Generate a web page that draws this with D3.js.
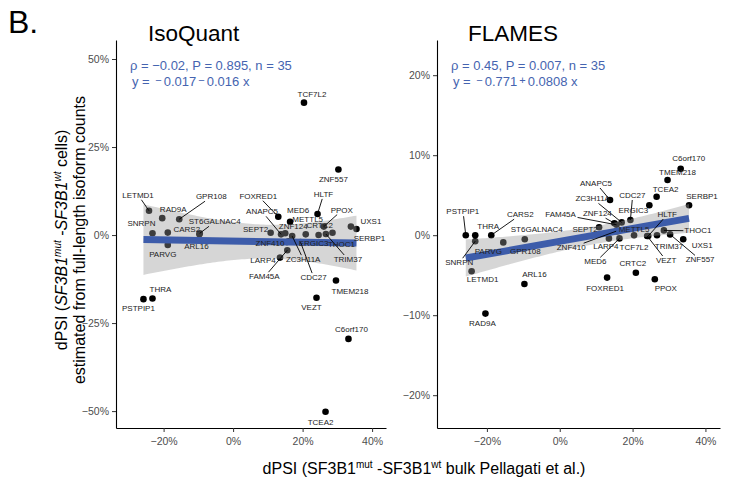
<!DOCTYPE html>
<html>
<head>
<meta charset="utf-8">
<script src="https://cdn.jsdelivr.net/npm/d3@7"></script>
<style>
  body { margin: 0; background: #fff; }
  svg text { font-family: "Liberation Sans", Arial, sans-serif; }
</style>
</head>
<body>
<svg id="chart" width="739" height="486"></svg>
<script>
// genes, in the same order in every array
var genes = ["PSTPIP1","THRA","LETMD1","SNRPN","RAD9A","GPR108","CARS2","PARVG","ST6GALNAC4","ARL16",
             "SEPT2","FOXRED1","LARP4","ANAPC5","FAM45A","ZNF410","ZNF124","ZC3H11A","METTL5","MED6",
             "CDC27","TCF7L2","CRTC2","ERGIC3","HLTF","VEZT","PPOX","TCEA2","TRIM37","THOC1",
             "TMEM218","ZNF557","C6orf170","UXS1","SERBP1"];

// dPSI (%) bulk Pellagati et al. (x, shared by both panels)
var bulkDpsi = [-25.8,-23.2,-24.2,-23.2,-20.4,-15.5,-18.8,-18.8,-9.6,-9.7,
                10.8,13.0,13.5,13.8,15.6,15.5,15.0,17.0,16.0,16.4,
                19.4,20.4,20.9,24.6,24.3,24.0,26.1,26.6,26.7,28.6,
                29.6,30.3,33.2,33.9,35.5];

// dPSI (%) from full-length isoform counts
var isoquantDpsi = [-18.2,-18.0,6.9,0.5,4.8,4.5,0.7,-2.8,0.5,0.2,
                    0.65,5.2,-6.4,0.2,-4.3,-2.0,0.5,-0.3,-1.8,3.8,
                    -2.0,37.6,0.2,0.0,6.0,-17.8,2.4,-50.2,0.3,0.65,
                    -12.9,18.6,-29.5,2.4,1.7];
var flamesDpsi = [0.0,0.0,-4.5,-0.75,-9.8,-0.9,0.0,-2.2,-0.5,-6.1,
                  1.0,-5.3,-0.4,4.4,1.3,0.5,1.5,1.6,0.5,-0.4,
                  1.9,0.0,-4.7,3.75,-0.1,-0.1,-5.5,4.8,0.0,0.6,
                  6.9,0.1,8.3,-0.5,3.75];

// linear fits [intercept, slope] in percent units
var isoquantFit = [-1.7, -0.016];
var flamesFit = [-0.771, 0.0808];

var xTicks = [-20, 0, 20, 40];
var isoquantYTicks = [-50, -25, 0, 25, 50];
var flamesYTicks = [-20, -10, 0, 10, 20];

// label offsets from the point in px: [dx, dy, segment]
var isoquantLabels = {
  TCF7L2:[8,-9], ZNF557:[-5,9], LETMD1:[-11,-16,1], RAD9A:[11,-9], GPR108:[32,-23,1],
  SNRPN:[-11,-10], CARS2:[19,-4], ST6GALNAC4:[15,-12,1], PARVG:[-5,9], ARL16:[-3,12],
  FOXRED1:[-20,-21,1], ANAPC5:[-19,-23,1], MED6:[8,-12], SEPT2:[-15,-4], ZNF124:[8,-7],
  METTL5:[19,-22], HLTF:[6,-20,1], PPOX:[18,-17,1], CRTC2:[14,-9], UXS1:[20,-6],
  SERBP1:[13,9], ZNF410:[-17,1], ERGIC3:[-5,8], THOC1:[9,11], TRIM37:[22,25,1],
  LARP4:[-17,2], ZC3H11A:[11,23,1], FAM45A:[-23,26,1], CDC27:[13,35,1], TMEM218:[14,11],
  VEZT:[-5,9], THRA:[8,-9], PSTPIP1:[-5,9], C6orf170:[3,-10], TCEA2:[-5,10]
};
var flamesLabels = {
  C6orf170:[8,-11], TMEM218:[10,-8], ANAPC5:[-14,-17,1], TCEA2:[9,-8], SERBP1:[13,-9],
  ZC3H11A:[-29,-24,1], CDC27:[2,-25,1], PSTPIP1:[-3,-24,1], CARS2:[29,-21,1], PARVG:[-3,-2],
  THRA:[13,-9], ST6GALNAC4:[12,-10], GPR108:[22,9], SNRPN:[-16,21,1], LETMD1:[11,8],
  ARL16:[10,-10], RAD9A:[-3,9], FOXRED1:[-2,10], PPOX:[11,9], CRTC2:[-3,-10],
  MED6:[-24,23,1], FAM45A:[-56,-11,1], ZNF124:[-17,-10,1], SEPT2:[-14,2], ZNF410:[-45,16,1],
  LARP4:[-3,8], METTL5:[16,-2], ERGIC3:[-16,5], TCF7L2:[0,12], HLTF:[19,-22,1],
  THOC1:[34,0,1], TRIM37:[12,11], UXS1:[19,6], ZNF557:[30,25,1], VEZT:[19,24,1]
};

var plotTop = 40, plotBottom = 428;
var blue = "#3d5caa", textBlue = "#4564b0";

var panels = [
  {title: "IsoQuant", values: isoquantDpsi, fit: isoquantFit, labels: isoquantLabels,
   left: 116, right: 386, yDomain: [-54.8, 55.4], yTicks: isoquantYTicks, titleX: 148,
   stats: "\u03c1 = \u22120.02, P = 0.895, n = 35",
   eq: [["y = ", 0], ["\u2212", 1], ["0.017", 0], ["\u2212", 1], ["0.016 x", 0]]},
  {title: "FLAMES", values: flamesDpsi, fit: flamesFit, labels: flamesLabels,
   left: 437, right: 720, yDomain: [-24.1, 24.4], yTicks: flamesYTicks, titleX: 468,
   stats: "\u03c1 = 0.45, P = 0.007, n = 35",
   eq: [["y = ", 0], ["\u2212", 1], ["0.771", 0], ["+", 1], ["0.0808 x", 0]]}
];

var svg = d3.select("#chart");
var pct = function(d) { return (d < 0 ? "\u2212" : "") + Math.abs(d) + "%"; };

panels.forEach(function(p) {
  var x = d3.scaleLinear().domain([-33.7, 44]).range([p.left, p.right]);
  var y = d3.scaleLinear().domain(p.yDomain).range([plotBottom, plotTop]);
  var g = svg.append("g");

  // axes
  var xa = g.append("g").attr("transform", "translate(0," + plotBottom + ")")
      .call(d3.axisBottom(x).tickValues(xTicks).tickFormat(pct).tickSize(4).tickSizeOuter(0));
  var ya = g.append("g").attr("transform", "translate(" + p.left + ",0)")
      .call(d3.axisLeft(y).tickValues(p.yTicks).tickFormat(pct).tickSize(4).tickSizeOuter(0));
  [xa, ya].forEach(function(a) {
    a.select(".domain").attr("stroke", "#000").attr("stroke-width", 1.1);
    a.selectAll(".tick line").attr("stroke", "#333");
    a.selectAll(".tick text").attr("fill", "#4d4d4d").style("font-size", "10.5px")
      .style("font-family", "'Liberation Sans', Arial, sans-serif");
  });
  xa.selectAll(".tick text").attr("dy", "0.95em");

  // points
  g.append("g").selectAll("circle")
    .data(genes)
    .enter().append("circle")
      .attr("cx", function(d, i) { return x(bulkDpsi[i]); })
      .attr("cy", function(d, i) { return y(p.values[i]); })
      .attr("r", 3.3)
      .attr("fill", "#000");

  // confidence band of the linear fit
  var n = genes.length;
  var xm = d3.mean(bulkDpsi);
  var sxx = d3.sum(bulkDpsi, function(v) { return (v - xm) * (v - xm); });
  var fitAt = function(v) { return p.fit[0] + p.fit[1] * v; };
  var ssr = d3.sum(genes, function(d, i) { var r = p.values[i] - fitAt(bulkDpsi[i]); return r * r; });
  var s = Math.sqrt(ssr / (n - 2)), tq = 2.0345;
  var ext = d3.extent(bulkDpsi);
  var xs = d3.range(0, 81).map(function(k) { return ext[0] + (ext[1] - ext[0]) * k / 80; });
  var band = d3.area()
      .x(function(v) { return x(v); })
      .y0(function(v) { return y(fitAt(v) - tq * s * Math.sqrt(1 / n + (v - xm) * (v - xm) / sxx)); })
      .y1(function(v) { return y(fitAt(v) + tq * s * Math.sqrt(1 / n + (v - xm) * (v - xm) / sxx)); });
  g.append("path").datum(xs).attr("d", band).attr("fill", "#999").attr("fill-opacity", 0.4);

  g.append("path").datum(ext)
    .attr("d", d3.line().x(function(v) { return x(v); }).y(function(v) { return y(fitAt(v)); }))
    .attr("stroke", blue).attr("stroke-width", 7).attr("fill", "none");

  // gene labels with repel-like segments
  var segG = g.append("g"), labG = g.append("g");
  genes.forEach(function(name, i) {
    var o = p.labels[name] || [0, -9];
    var px = x(bulkDpsi[i]), py = y(p.values[i]);
    var t = labG.append("text")
      .attr("x", px + o[0]).attr("y", py + o[1] + 3)
      .attr("text-anchor", "middle")
      .attr("fill", "#222")
      .style("font-size", "8px")
      .text(name);
    if (o[2]) {
      var b = t.node().getBBox();
      var cx = b.x + b.width / 2, cy = b.y + b.height / 2;
      var dx = px - cx, dy = py - cy;
      var f = Math.min((b.width / 2 + 1) / Math.abs(dx || 1e-6), (b.height / 2) / Math.abs(dy || 1e-6));
      segG.append("line")
        .attr("x1", px).attr("y1", py)
        .attr("x2", cx + f * dx).attr("y2", cy + f * dy)
        .attr("stroke", "#000").attr("stroke-width", 0.9);
    }
  });

  // titles and fit statistics
  svg.append("text").attr("x", p.titleX).attr("y", 41).style("font-size", "22.5px").attr("fill", "#000").text(p.title);
  svg.append("text").attr("x", p.left + 14).attr("y", 70).style("font-size", "13px").attr("fill", textBlue).text(p.stats);
  var eq = svg.append("text").attr("x", p.left + 16).attr("y", 86).style("font-size", "13px").attr("fill", textBlue);
  p.eq.forEach(function(part, k) {
    var prev = k > 0 ? p.eq[k - 1][1] : 0;
    var ts = eq.append("tspan").text(part[0]);
    if (part[1]) ts.style("font-size", "11px").attr("dx", 2).attr("dy", prev ? 0 : -2);
    else ts.attr("dx", prev ? 2 : 0).attr("dy", prev ? 2 : 0);
  });
});

// panel letter
svg.append("text").attr("x", 8).attr("y", 33).style("font-size", "32px").attr("fill", "#000").text("B.");

// y axis title
var yt = svg.append("text").attr("transform", "translate(67,240) rotate(-90)")
    .attr("text-anchor", "middle").style("font-size", "16px").attr("fill", "#000");
yt.append("tspan").text("dPSI (");
yt.append("tspan").style("font-style", "italic").text("SF3B1");
yt.append("tspan").style("font-style", "italic").style("font-size", "10px").attr("dy", -6).text("mut");
yt.append("tspan").attr("dy", 6).text(" -");
yt.append("tspan").style("font-style", "italic").text("SF3B1");
yt.append("tspan").style("font-style", "italic").style("font-size", "10px").attr("dy", -6).text("wt");
yt.append("tspan").attr("dy", 6).text(" cells)");
svg.append("text").attr("transform", "translate(85,240) rotate(-90)")
    .attr("text-anchor", "middle").style("font-size", "16px").attr("fill", "#000")
    .text("estimated from full-length isoform counts");

// x axis title
var xt = svg.append("text").attr("x", 424).attr("y", 474)
    .attr("text-anchor", "middle").style("font-size", "16px").attr("fill", "#000");
xt.append("tspan").text("dPSI (SF3B1");
xt.append("tspan").style("font-size", "10px").attr("dy", -6).text("mut");
xt.append("tspan").attr("dy", 6).text(" -SF3B1");
xt.append("tspan").style("font-size", "10px").attr("dy", -6).text("wt");
xt.append("tspan").attr("dy", 6).text("  bulk Pellagati et al.)");
</script>
</body>
</html>
